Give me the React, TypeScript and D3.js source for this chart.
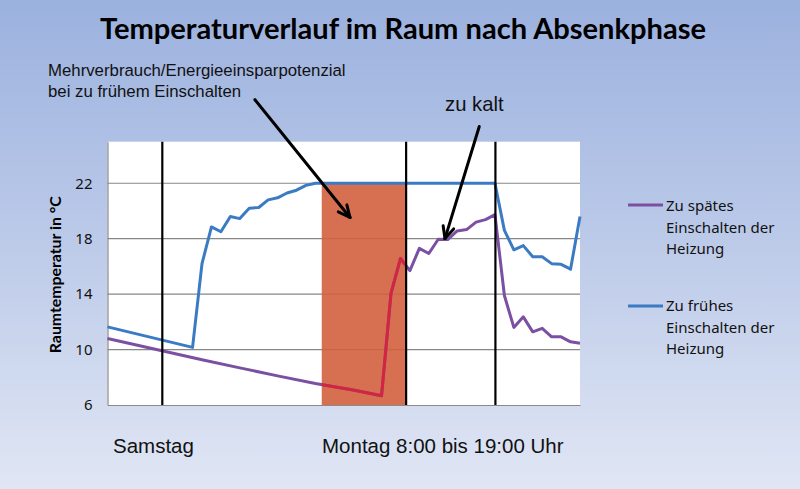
import React, { useEffect, useRef } from "react";
import * as d3 from "d3";

const W = 800;
const H = 489;

const title = "Temperaturverlauf im Raum nach Absenkphase";
const yTitle = "Raumtemperatur in °C";
const yTicks = [6, 10, 14, 18, 22];
const xLabels = ["Samstag", "Montag 8:00 bis 19:00 Uhr"];
const noteWaste = ["Mehrverbrauch/Energieeinsparpotenzial", "bei zu frühem Einschalten"];
const noteCold = "zu kalt";
const legendLate = ["Zu spätes", "Einschalten der", "Heizung"];
const legendEarly = ["Zu frühes", "Einschalten der", "Heizung"];

// Series: "Zu frühes Einschalten" (blue)
const earlyX = [0, 9, 10, 11, 12, 13, 14, 15, 16, 17, 18, 19, 20, 21, 22, 41, 42, 43, 44, 45, 46, 47, 48, 49, 50];
const earlyY = [11.64, 10.16, 16.2, 18.85, 18.5, 19.6, 19.45, 20.2, 20.25, 20.8, 20.95, 21.3, 21.5, 21.85, 22, 22, 18.6, 17.2, 17.5, 16.7, 16.7, 16.2, 16.15, 15.8, 19.6];

// Series: "Zu spätes Einschalten" (purple)
const lateX = [0, 6, 10, 14, 18, 22, 26, 29, 30, 31, 32, 33, 34, 35, 36, 37, 38, 39, 40, 41, 42, 43, 44, 45, 46, 47, 48, 49, 50];
const lateY = [10.8, 9.88, 9.27, 8.68, 8.1, 7.55, 7.08, 6.67, 14.05, 16.57, 15.7, 17.3, 16.93, 17.96, 17.94, 18.56, 18.66, 19.2, 19.38, 19.74, 13.9, 11.6, 12.36, 11.28, 11.53, 10.92, 10.92, 10.56, 10.45];

const markerX = [5.8, 31.6, 41.05];
const bandX = [22.67, 31.6];
const bandY = [6, 22];

// annotation arrows (data coords): start x, start y, end x, end y
const arrowWaste = [15.6, 28.03, 25.66, 19.53];
const arrowCold = [39.34, 26.1, 35.71, 18.01];

const C_BLUE = "#3b7bc4";
const C_PURPLE = "#7b50a2";
const C_RED = "#d32540";
const C_BAND = "#d1613d";

const PL = 107.5, PR = 580, PT = 141.7, PB = 405;

function Arrow({ x1, y1, x2, y2 }: { x1: number; y1: number; x2: number; y2: number }) {
  const ang = Math.atan2(y2 - y1, x2 - x1);
  const len = 13;
  const spread = (25 * Math.PI) / 180;
  const a1 = ang + Math.PI - spread;
  const a2 = ang + Math.PI + spread;
  return (
    <g stroke="#000" strokeWidth={3} strokeLinecap="round" fill="none">
      <line x1={x1} y1={y1} x2={x2} y2={y2} />
      <line x1={x2} y1={y2} x2={x2 + len * Math.cos(a1)} y2={y2 + len * Math.sin(a1)} />
      <line x1={x2} y1={y2} x2={x2 + len * Math.cos(a2)} y2={y2 + len * Math.sin(a2)} />
    </g>
  );
}

export default function App() {
  const yAxisRef = useRef<SVGGElement>(null);
  const xAxisRef = useRef<SVGGElement>(null);

  const x = d3.scaleLinear().domain([0, 50]).range([PL, PR]);
  const y = d3.scaleLinear().domain([6, 25]).range([PB, PT]);

  useEffect(() => {
    if (yAxisRef.current) {
      const g = d3.select(yAxisRef.current);
      g.call(d3.axisLeft(y).tickValues(yTicks).tickSize(0).tickPadding(15));
      g.select(".domain").attr("stroke", "#8a8a8a").attr("stroke-width", 1.2);
      g.selectAll("text")
        .attr("font-family", "'Noto Sans', sans-serif")
        .attr("font-size", 15)
        .attr("fill", "#111");
    }
    if (xAxisRef.current) {
      const g = d3.select(xAxisRef.current);
      g.call(d3.axisBottom(x).tickValues([]).tickSizeOuter(0));
      g.select(".domain").attr("stroke", "#8a8a8a").attr("stroke-width", 1.2);
    }
  }, []);

  const line = d3
    .line<[number, number]>()
    .x((d) => x(d[0]))
    .y((d) => y(d[1]));

  const earlyPts: [number, number][] = earlyX.map((v, i) => [v, earlyY[i]]);
  const latePts: [number, number][] = lateX.map((v, i) => [v, lateY[i]]);

  return (
    <svg
      width={W}
      height={H}
      style={{ position: "fixed", left: 0, top: 0, display: "block" }}
    >
      <defs>
        <linearGradient id="bg" x1="0" y1="0" x2="0" y2="1">
          <stop offset="0" stopColor="#9bb1de" />
          <stop offset="0.45" stopColor="#b9c8e8" />
          <stop offset="1" stopColor="#e0e6f4" />
        </linearGradient>
        <clipPath id="bandClip">
          <rect x={x(bandX[0])} y={PT - 10} width={x(bandX[1]) - x(bandX[0])} height={PB - PT + 20} />
        </clipPath>
      </defs>
      <rect x={0} y={0} width={W} height={H} fill="url(#bg)" />

      <text
        x={403}
        y={38.5}
        textAnchor="middle"
        fontFamily="Lato, 'Noto Sans', sans-serif"
        fontWeight="bold"
        fontSize={29}
        textLength={606}
        lengthAdjust="spacingAndGlyphs"
        fill="#000"
      >
        {title}
      </text>

      {/* plot area */}
      <rect x={PL} y={PT} width={PR - PL} height={PB - PT} fill="#fff" />
      {yTicks.slice(1).map((t) => (
        <line key={t} x1={PL} x2={PR} y1={y(t)} y2={y(t)} stroke="#878787" strokeWidth={1.2} />
      ))}

      <rect
        x={x(bandX[0])}
        y={y(bandY[1])}
        width={x(bandX[1]) - x(bandX[0])}
        height={y(bandY[0]) - y(bandY[1])}
        fill={C_BAND}
        opacity={0.9}
      />

      <g ref={yAxisRef} transform={`translate(${PL},0)`} />
      <g ref={xAxisRef} transform={`translate(0,${PB})`} />

      <path d={line(latePts) || ""} fill="none" stroke={C_PURPLE} strokeWidth={3} strokeLinejoin="round" />
      <path d={line(latePts) || ""} fill="none" stroke={C_RED} strokeWidth={3} strokeLinejoin="round" clipPath="url(#bandClip)" />
      <path d={line(earlyPts) || ""} fill="none" stroke={C_BLUE} strokeWidth={3} strokeLinejoin="round" />

      {markerX.map((m) => (
        <line key={m} x1={x(m)} x2={x(m)} y1={PT} y2={PB} stroke="#000" strokeWidth={2.2} />
      ))}

      {/* y axis title */}
      <text
        transform={`translate(61,${274.7}) rotate(-90)`}
        textAnchor="middle"
        fontFamily="Lato, 'Noto Sans', sans-serif"
        fontWeight="bold"
        fontSize={15}
        textLength={157}
        lengthAdjust="spacingAndGlyphs"
        fill="#000"
      >
        {yTitle}
      </text>

      {/* annotations */}
      <g fontFamily="'Liberation Sans', Arial, sans-serif" fontSize={16.8} fill="#111">
        {noteWaste.map((s, i) => (
          <text key={i} x={48} y={75.5 + i * 21}>
            {s}
          </text>
        ))}
      </g>
      <text x={445} y={110.7} fontFamily="'Liberation Sans', Arial, sans-serif" fontSize={20.3} fill="#111">
        {noteCold}
      </text>
      <Arrow x1={x(arrowWaste[0])} y1={y(arrowWaste[1])} x2={x(arrowWaste[2])} y2={y(arrowWaste[3])} />
      <Arrow x1={x(arrowCold[0])} y1={y(arrowCold[1])} x2={x(arrowCold[2])} y2={y(arrowCold[3])} />

      {/* x labels */}
      <g fontFamily="'Liberation Sans', Arial, sans-serif" fontSize={20.5} fill="#111">
        <text x={113} y={453}>{xLabels[0]}</text>
        <text x={322} y={453}>{xLabels[1]}</text>
      </g>

      {/* legend */}
      <g fontFamily="'Noto Sans', sans-serif" fontSize={15} fill="#111">
        <line x1={628} x2={663} y1={205} y2={205} stroke={C_PURPLE} strokeWidth={3} />
        {legendLate.map((s, i) => (
          <text key={i} x={666} y={211 + i * 21.5}>
            {s}
          </text>
        ))}
        <line x1={628} x2={663} y1={306} y2={306} stroke={C_BLUE} strokeWidth={3} />
        {legendEarly.map((s, i) => (
          <text key={i} x={666} y={311 + i * 21.5}>
            {s}
          </text>
        ))}
      </g>
    </svg>
  );
}
